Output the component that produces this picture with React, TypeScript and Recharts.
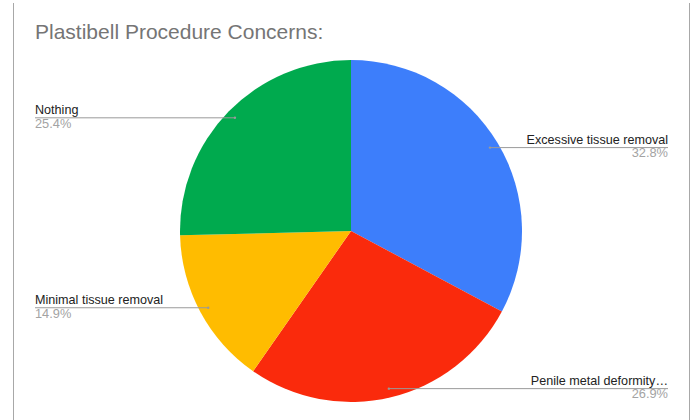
import React from "react";
import { PieChart, Pie, Cell } from "recharts";

const categories = ["Excessive tissue removal", "Penile metal deformity…", "Minimal tissue removal", "Nothing"];
const values = [32.8, 26.9, 14.9, 25.4];
const colors = ["#3D7EFB", "#FA2A0C", "#FFBC00", "#00AA4E"];
const title = "Plastibell Procedure Concerns:";

const data = categories.map((name, i) => ({ name, value: values[i] }));
const total = values.reduce((a, b) => a + b, 0);
const RAD = Math.PI / 180;

const renderLabel = (props: any) => {
  const { cx, cy, midAngle, outerRadius, name, value } = props;
  const r = outerRadius * 0.948;
  const x = cx + r * Math.cos(-midAngle * RAD);
  const y = cy + r * Math.sin(-midAngle * RAD);
  const right = x > cx;
  const edge = right ? 668 : 35;
  const anchor = right ? "end" : "start";
  const pct = ((value / total) * 100).toFixed(1) + "%";
  return (
    <g key={name}>
      <line x1={x} y1={y} x2={edge} y2={y} stroke="#9a9a9a" strokeWidth={1} />
      <circle cx={x} cy={y} r={1.2} fill="#9a9a9a" />
      <text x={edge} y={y - 4} textAnchor={anchor} fontSize={12.6} fill="#222" fontFamily="Liberation Sans, Arial, sans-serif">
        {name}
      </text>
      <text x={edge} y={y + 9.8} textAnchor={anchor} fontSize={12.8} fill="#a3a3a3" fontFamily="Liberation Sans, Arial, sans-serif">
        {pct}
      </text>
    </g>
  );
};

export default function App() {
  return (
    <div style={{ position: "absolute", left: 0, top: 0, width: 695, height: 420, background: "#fff" }}>
      <div style={{ position: "absolute", left: 13, top: 3, width: 675, height: 417, borderLeft: "1px solid #a8a8a8", borderRight: "1px solid #a8a8a8" }} />
      <div
        style={{
          position: "absolute",
          left: 35,
          top: 21,
          fontSize: 21,
          lineHeight: "21px",
          color: "#757575",
          fontFamily: "Liberation Sans, Arial, sans-serif",
          whiteSpace: "nowrap",
        }}
      >
        {title}
      </div>
      <div style={{ position: "absolute", left: 0, top: 0 }}>
        <PieChart width={695} height={420} margin={{ top: 0, right: 0, bottom: 0, left: 0 }}>
          <Pie
            data={data}
            dataKey="value"
            nameKey="name"
            cx={351}
            cy={231}
            outerRadius={171}
            startAngle={90}
            endAngle={-270}
            stroke="none"
            label={renderLabel}
            labelLine={false}
            isAnimationActive={false}
          >
            {data.map((d, i) => (
              <Cell key={d.name} fill={colors[i]} />
            ))}
          </Pie>
        </PieChart>
      </div>
    </div>
  );
}
